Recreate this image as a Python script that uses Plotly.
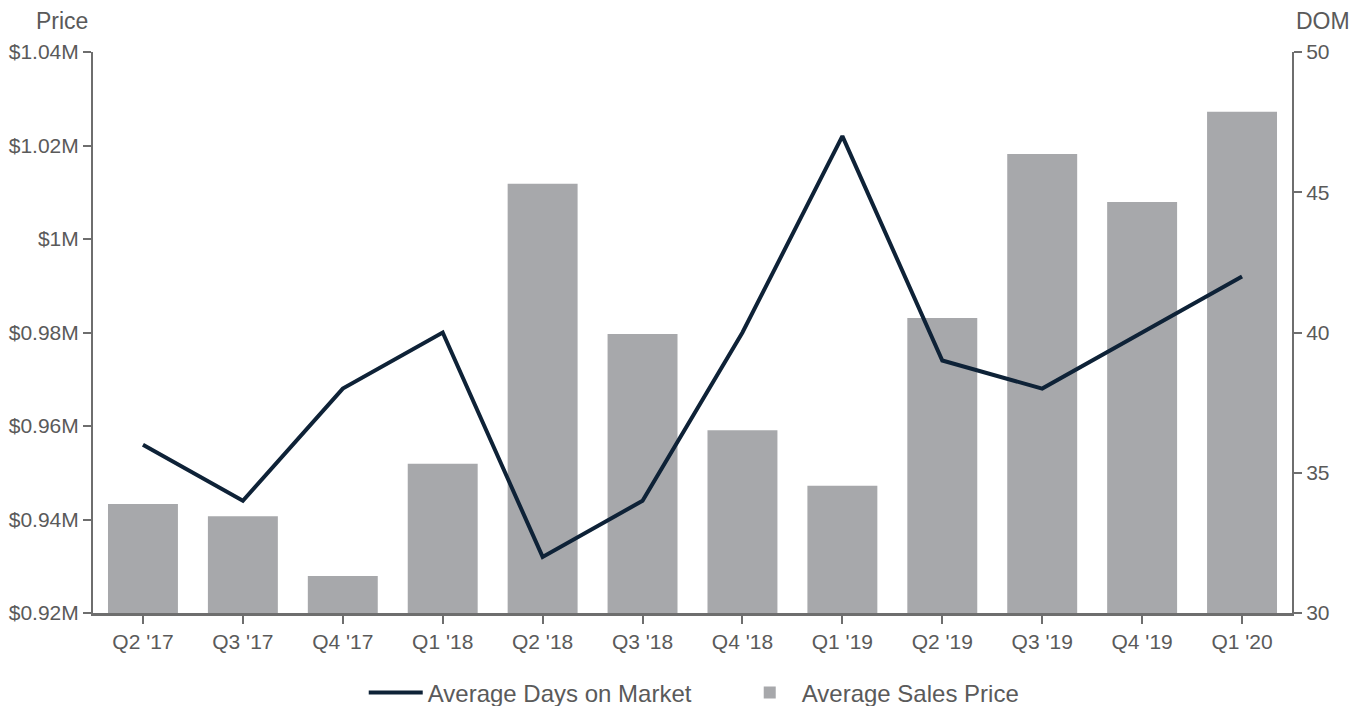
import plotly.graph_objects as go

quarters = ["Q2 '17", "Q3 '17", "Q4 '17", "Q1 '18", "Q2 '18", "Q3 '18",
            "Q4 '18", "Q1 '19", "Q2 '19", "Q3 '19", "Q4 '19", "Q1 '20"]
avg_sales_price = [943300, 940700, 927900, 951900, 1011800, 979700,
                   959100, 947200, 983100, 1018200, 1007900, 1027200]
avg_dom = [36, 34, 38, 40, 32, 34, 40, 47, 39, 38, 40, 42]

price_tickvals = [920000, 940000, 960000, 980000, 1000000, 1020000, 1040000]
price_ticktext = ["$0.92M", "$0.94M", "$0.96M", "$0.98M", "$1M", "$1.02M", "$1.04M"]
dom_tickvals = [30, 35, 40, 45, 50]

TEXT = "#5a5a5a"
AXIS = "#6e6e6e"
FONT = "Liberation Sans, Arial, sans-serif"

fig = go.Figure()
fig.add_trace(go.Scatter(
    x=quarters, y=avg_dom, name="Average Days on Market", mode="lines",
    line=dict(color="#0e2237", width=4), yaxis="y2"))
fig.add_trace(go.Bar(
    x=quarters, y=avg_sales_price, name="Average Sales Price",
    marker=dict(color="#a7a8ab", line=dict(width=0))))

fig.update_layout(
    width=1364, height=706,
    margin=dict(l=93, r=72, t=52, b=93, autoexpand=False),
    paper_bgcolor="white", plot_bgcolor="white",
    font=dict(family=FONT, size=21, color=TEXT),
    bargap=0.3,
    showlegend=True,
    legend=dict(orientation="h", x=0.2258, xanchor="left", y=-0.1426,
                yref="paper", yanchor="middle",
                font=dict(size=24, color=TEXT), traceorder="normal",
                itemwidth=54, entrywidth=305, entrywidthmode="pixels"),
    xaxis=dict(showline=True, linecolor=AXIS, linewidth=3,
               ticks="outside", ticklen=8, tickwidth=2, tickcolor=AXIS,
               showgrid=False, tickfont=dict(size=21, color=TEXT)),
    yaxis=dict(range=[920000, 1040000], tickvals=price_tickvals, ticktext=price_ticktext,
               showline=True, linecolor=AXIS, linewidth=2,
               ticks="outside", ticklen=8, tickwidth=2, tickcolor=AXIS,
               showgrid=False, zeroline=False, tickfont=dict(size=21, color=TEXT)),
    yaxis2=dict(range=[30, 50], tickvals=dom_tickvals, overlaying="y", side="right",
                showline=True, linecolor=AXIS, linewidth=2,
                ticks="outside", ticklen=8, tickwidth=2, tickcolor=AXIS,
                showgrid=False, zeroline=False, tickfont=dict(size=21, color=TEXT)),
    annotations=[
        dict(text="Price", xref="paper", yref="paper", x=-0.026, y=1.0, yshift=31,
             xanchor="center", yanchor="middle", showarrow=False,
             font=dict(size=23, color=TEXT)),
        dict(text="DOM", xref="paper", yref="paper", x=1.026, y=1.0, yshift=31,
             xanchor="center", yanchor="middle", showarrow=False,
             font=dict(size=23, color=TEXT)),
    ],
)

fig.write_html("out.html", config={"displayModeBar": False},
               post_script="document.body.style.margin='0';document.body.style.overflow='hidden';")
